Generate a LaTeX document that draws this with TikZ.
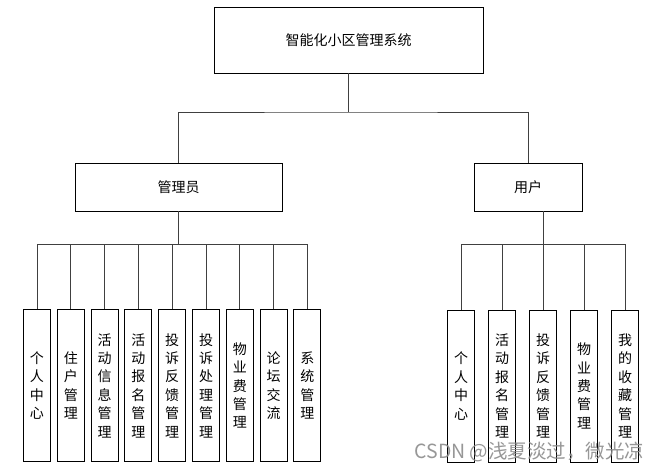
\documentclass[tikz,border=0pt]{standalone}
\usepackage{fontspec}
\setmainfont{Noto Sans CJK SC}
\usetikzlibrary{positioning}

\begin{document}
\begin{tikzpicture}[x=1pt,y=-1pt,
  box/.style={draw,line width=0.9pt,align=center,inner sep=0pt,font=\fontsize{14}{18.4}\selectfont},
  topbox/.style={box,minimum width=269pt,minimum height=66pt},
  rolebox/.style={box,minimum height=48pt},
  leafbox/.style={box,minimum width=27pt,minimum height=152pt},
  line/.style={draw=black!75,line width=0.9pt}]
  \fill[white] (0,0) rectangle (659,472);
  \useasboundingbox (0,0) rectangle (659,472);
  \node[topbox] (sys) at (348.5,40) {智能化小区管理系统};
  \node[rolebox,minimum width=207pt] (admin) at (178.5,187) {管理员};
  \node[rolebox,minimum width=108pt] (user) at (528,187) {用户};
  % admin leaves
  \node[leafbox] (a1) at (37,385.5) {个\\人\\中\\心};
  \node[leafbox,right=5.9pt of a1] (a2) {住\\户\\管\\理};
  \node[leafbox,right=5.9pt of a2] (a3) {活\\动\\信\\息\\管\\理};
  \node[leafbox,right=5.9pt of a3] (a4) {活\\动\\报\\名\\管\\理};
  \node[leafbox,right=5.9pt of a4] (a5) {投\\诉\\反\\馈\\管\\理};
  \node[leafbox,right=5.9pt of a5] (a6) {投\\诉\\处\\理\\管\\理};
  \node[leafbox,right=5.9pt of a6] (a7) {物\\业\\费\\管\\理};
  \node[leafbox,right=5.9pt of a7] (a8) {论\\坛\\交\\流};
  \node[leafbox,right=5.9pt of a8] (a9) {系\\统\\管\\理};
  % user leaves
  \node[leafbox] (u1) at (461,386) {个\\人\\中\\心};
  \node[leafbox,right=13.1pt of u1] (u2) {活\\动\\报\\名\\管\\理};
  \node[leafbox,right=13.1pt of u2] (u3) {投\\诉\\反\\馈\\管\\理};
  \node[leafbox,right=13.1pt of u3] (u4) {物\\业\\费\\管\\理};
  \node[leafbox,right=13.1pt of u4] (u5) {我\\的\\收\\藏\\管\\理};
  \coordinate (top) at (348.5,112);
  \coordinate (abus) at (178.5,244);
  \coordinate (ubus) at (543,244);
  % tree lines
  \draw[line] (sys.south) -- (top);
  \draw[line] (admin.north) |- (top) -| (user.north);
  \draw[line] (admin.south) -- (abus);
  \draw[line] (a1.north) -- (a1.north |- abus) -- (a9.north |- abus) -- (a9.north);
  \draw[line] (a2.north) -- (a2.north |- abus);
  \draw[line] (a3.north) -- (a3.north |- abus);
  \draw[line] (a4.north) -- (a4.north |- abus);
  \draw[line] (a5.north) -- (a5.north |- abus);
  \draw[line] (a6.north) -- (a6.north |- abus);
  \draw[line] (a7.north) -- (a7.north |- abus);
  \draw[line] (a8.north) -- (a8.north |- abus);
  \draw[line] (user.south -| ubus) -- (ubus);
  \draw[line] (u1.north) -- (u1.north |- ubus) -- (u5.north |- ubus) -- (u5.north);
  \draw[line] (u2.north) -- (u2.north |- ubus);
  \draw[line] (u3.north) -- (u3.north |- ubus);
  \draw[line] (u4.north) -- (u4.north |- ubus);
  \node[text=black!45,text opacity=0.9,font=\fontsize{19.5}{19.5}\selectfont,inner sep=0pt] (mark) at (529.5,452) {CSDN @浅夏淡过，微光凉};
\end{tikzpicture}
\end{document}
